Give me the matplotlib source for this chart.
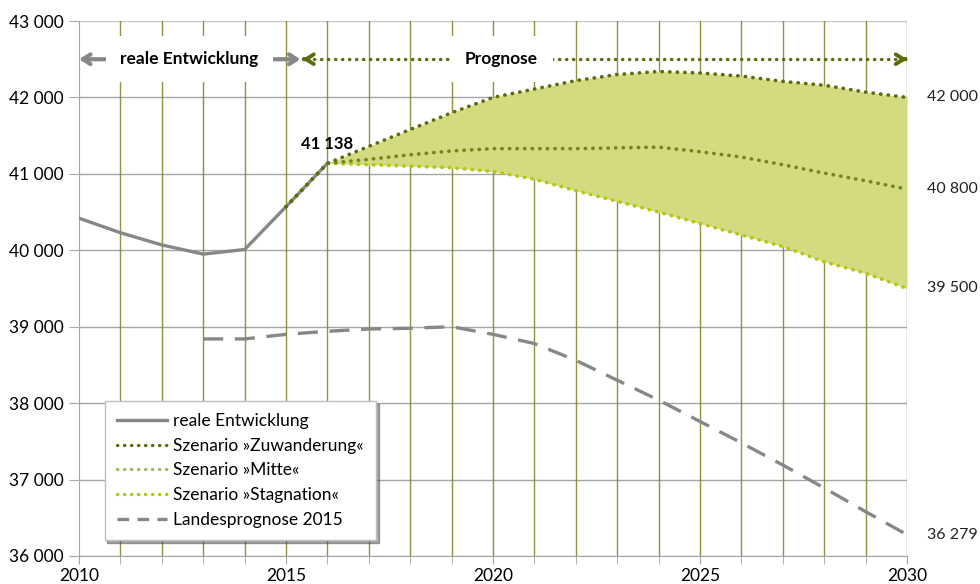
import matplotlib.pyplot as plt
from matplotlib.lines import Line2D

plt.rcParams['font.family'] = ['Lato', 'DejaVu Sans']

years_real = [2010, 2011, 2012, 2013, 2014, 2015, 2016]
real = [40420, 40230, 40070, 39950, 40010, 40570, 41138]

years_scen = list(range(2015, 2031))
zuwanderung = [40570, 41138, 41360, 41580, 41800, 42000, 42110, 42220, 42300, 42340,
               42320, 42280, 42210, 42160, 42070, 42000]
mitte = [40570, 41138, 41190, 41250, 41300, 41330, 41330, 41330, 41340, 41350,
         41290, 41220, 41120, 41010, 40910, 40800]
stagnation = [40570, 41138, 41120, 41100, 41080, 41030, 40930, 40780, 40640, 40500,
              40350, 40200, 40050, 39850, 39700, 39500]

years_land = list(range(2013, 2031))
landes = [38840, 38840, 38900, 38940, 38970, 38980, 39000, 38900, 38780, 38560,
          38300, 38040, 37760, 37480, 37190, 36890, 36580, 36279]

end_labels = ['42 000', '40 800', '39 500', '36 279']
end_values = [42000, 40800, 39500, 36279]

c_real = '#878787'
c_zuw = '#5c6b0c'
c_mitte = '#74861a'
c_mitte_leg = '#9dbb61'
c_stag = '#b4c80a'
c_fill = '#d4da80'
c_grid_v = '#7f7f1f'

fig = plt.figure(figsize=(9.8, 5.84), dpi=100)
ax = fig.add_axes([0.0806, 0.048, 0.8449, 0.916])

ax.set_xlim(2010, 2030)
ax.set_ylim(36000, 43000)

# grid
for y in range(36000, 43001, 1000):
    ax.axhline(y, color='#a6a6a6' if y < 43000 else '#c8c8c8', lw=1, zorder=1)
for x in range(2011, 2031):
    ax.axvline(x, color=c_grid_v, lw=1, alpha=0.85, zorder=1)

ax.fill_between(years_scen, stagnation, zuwanderung, color=c_fill, lw=0, zorder=2)

dots = dict(linestyle=(0, (0.1, 2)), dash_capstyle='round', lw=2.6, zorder=4)
ax.plot(years_real, real, color=c_real, lw=2.4, solid_capstyle='round', zorder=3)
ax.plot(years_scen, stagnation, color=c_stag, **dots)
ax.plot(years_scen, mitte, color=c_mitte, **dots)
ax.plot(years_scen, zuwanderung, color=c_zuw, **dots)
ax.plot(years_land, landes, color=c_real, lw=2.4, linestyle=(0, (6, 3.5)), zorder=3)

# top arrows
ay = 42500
ax.annotate('', xy=(2010, ay), xytext=(2015.35, ay), zorder=5,
            arrowprops=dict(arrowstyle='<->,head_length=0.55,head_width=0.35', lw=3, color=c_real,
                            shrinkA=0, shrinkB=0))
ax.plot([2015.5, 2029.9], [ay, ay], color=c_zuw, linestyle=(0, (0.1, 2)),
        dash_capstyle='round', lw=2.4, zorder=5)
for tip, tail in [(2015.4, 2015.45), (2030, 2029.95)]:
    ax.annotate('', xy=(tip, ay), xytext=(tail, ay), zorder=5,
                arrowprops=dict(arrowstyle='->,head_length=0.55,head_width=0.35', lw=2.8,
                                color=c_zuw, shrinkA=0, shrinkB=0))

box = dict(boxstyle='square,pad=0.85', fc='white', ec='none')
ax.text(2012.67, ay, 'reale Entwicklung', ha='center', va='center', fontsize=12.5,
        fontweight='bold', bbox=box, zorder=6)
ax.text(2020.2, ay, 'Prognose', ha='center', va='center', fontsize=12.5,
        fontweight='bold', bbox=box, zorder=6)

ax.text(2016, 41280, '41 138', ha='center', va='bottom', fontsize=12, fontweight='bold',
        zorder=6)

for lab, v in zip(end_labels, end_values):
    ax.text(1.024, v, lab, transform=ax.get_yaxis_transform(), ha='left', va='center',
            fontsize=11.5, color='#222222')

# axes styling
for s in ['top', 'right']:
    ax.spines[s].set_visible(False)
ax.spines['left'].set_color('#a6a6a6')
ax.spines['bottom'].set_color('#a6a6a6')
ax.spines['left'].set_zorder(1)
ax.spines['bottom'].set_zorder(1)

ax.set_yticks(range(36000, 43001, 1000))
ax.set_yticklabels([f'{v:,}'.replace(',', ' ') for v in range(36000, 43001, 1000)])
ax.set_xticks([2010, 2015, 2020, 2025, 2030])
ax.set_xticks(range(2010, 2031), minor=True)
ax.tick_params(axis='y', length=7, color='#a6a6a6', labelsize=12.5, pad=4)
ax.tick_params(axis='x', which='both', length=6, color='#a6a6a6', labelsize=12.5, pad=3)

handles = [
    Line2D([], [], color=c_real, lw=2.4),
    Line2D([], [], color=c_zuw, linestyle=(0, (0.1, 2)), dash_capstyle='round', lw=2.4),
    Line2D([], [], color=c_mitte_leg, linestyle=(0, (0.1, 2)), dash_capstyle='round', lw=2.4),
    Line2D([], [], color=c_stag, linestyle=(0, (0.1, 2)), dash_capstyle='round', lw=2.4),
    Line2D([], [], color=c_real, lw=2.4, linestyle=(0, (3.5, 2.5))),
]
labels = ['reale Entwicklung', 'Szenario \u00bbZuwanderung\u00ab', 'Szenario \u00bbMitte\u00ab',
          'Szenario \u00bbStagnation\u00ab', 'Landesprognose 2015']
leg = ax.legend(handles, labels, loc='lower left', bbox_to_anchor=(0.031, 0.03),
                fontsize=12.5, frameon=True, fancybox=False, shadow=True, handlelength=2.9,
                handletextpad=0.35, labelspacing=0.5, borderpad=0.7, borderaxespad=0)
leg.get_frame().set_edgecolor('#bfbfbf')
leg.get_frame().set_linewidth(1)
leg.set_zorder(7)

plt.savefig('out.png', dpi=100)
